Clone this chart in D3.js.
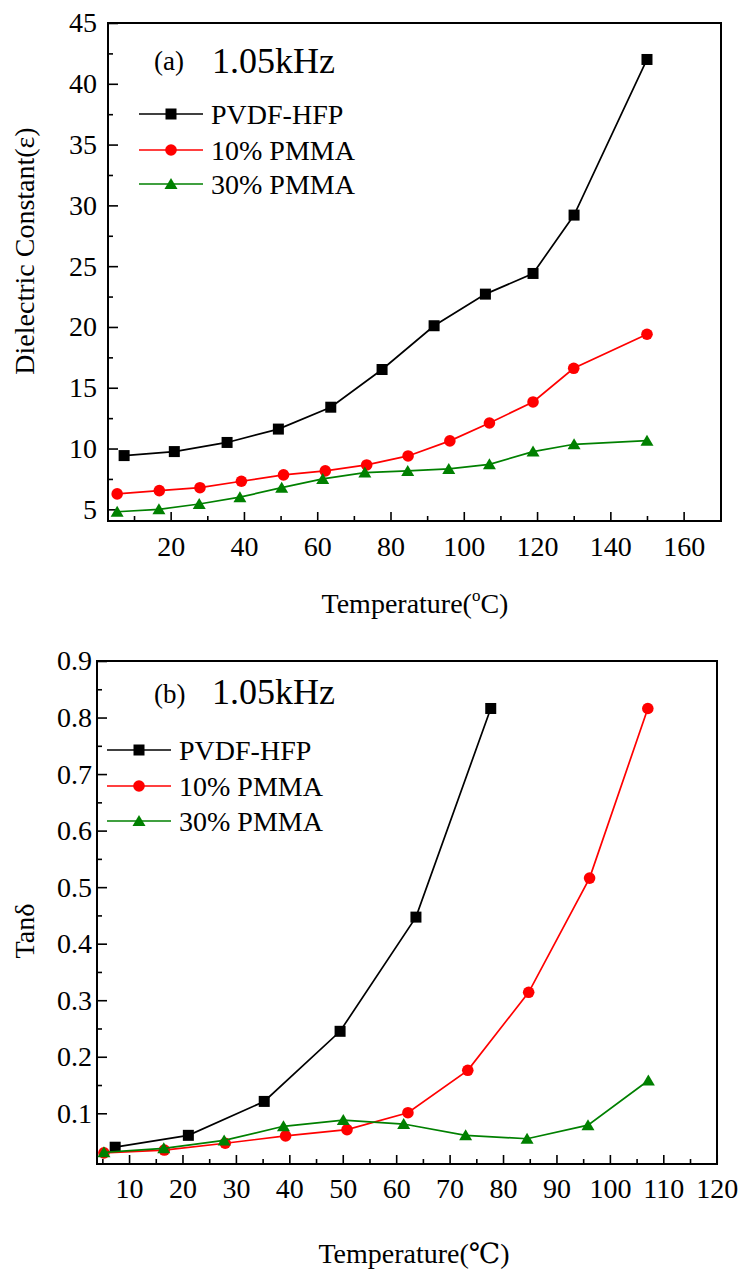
<!DOCTYPE html>
<html>
<head>
<meta charset="utf-8">
<title>Dielectric constant and loss vs temperature</title>
<script src="https://d3js.org/d3.v7.min.js"></script>
<style>
  body { margin: 0; background: #fff; }
  svg text { font-family: "Liberation Serif", "Times New Roman", "DejaVu Serif", serif !important; fill: #000; }
</style>
</head>
<body>
<div id="container"></div>
<script>
//------------------------- DATA ---------------------------//
const seriesNames = ["PVDF-HFP", "10% PMMA", "30% PMMA"];
const seriesColors = ["#000000", "#ff0000", "#008000"];
const seriesShapes = ["square", "circle", "triangle"];

// (a) dielectric constant
const aTempPVDF = [7.3, 21, 35.4, 49.4, 63.7, 77.7, 91.9, 105.9, 118.9, 130.1, 150];
const aEpsPVDF  = [9.42, 9.75, 10.5, 11.6, 13.4, 16.5, 20.1, 22.7, 24.4, 29.2, 42.0];
const aTemp10   = [5.4, 16.9, 28.0, 39.3, 50.8, 62.2, 73.5, 84.8, 96.2, 107.0, 118.9, 130.0, 150.0];
const aEps10    = [6.27, 6.54, 6.78, 7.31, 7.83, 8.16, 8.65, 9.39, 10.63, 12.1, 13.83, 16.6, 19.4];
const aTemp30   = [5.4, 16.8, 27.8, 38.9, 50.3, 61.5, 73.0, 84.7, 95.9, 107.0, 118.9, 130.1, 150.0];
const aEps30    = [4.8, 5.0, 5.44, 6.0, 6.78, 7.5, 8.02, 8.16, 8.32, 8.7, 9.75, 10.35, 10.65];

// (b) tan delta
const bTempPVDF = [7.4, 21.1, 35.3, 49.5, 63.7, 77.7];
const bTanPVDF  = [0.040, 0.061, 0.121, 0.245, 0.447, 0.816];
const bTemp10   = [5.3, 16.6, 28.0, 39.3, 50.8, 62.2, 73.4, 84.8, 96.2, 107.1];
const bTan10    = [0.030, 0.035, 0.047, 0.060, 0.071, 0.101, 0.176, 0.314, 0.516, 0.816];
const bTemp30   = [5.3, 16.5, 27.8, 38.9, 50.1, 61.4, 73.0, 84.5, 95.9, 107.2];
const bTan30    = [0.031, 0.038, 0.052, 0.077, 0.088, 0.081, 0.061, 0.055, 0.079, 0.158];

// ticks
const aXTicks = [20, 40, 60, 80, 100, 120, 140, 160];
const aXMinor = [10, 30, 50, 70, 90, 110, 130, 150];
const aYTicks = [5, 10, 15, 20, 25, 30, 35, 40, 45];
const aYMinor = [7.5, 12.5, 17.5, 22.5, 27.5, 32.5, 37.5, 42.5];
const bXTicks = [10, 20, 30, 40, 50, 60, 70, 80, 90, 100, 110, 120];
const bXMinor = [5, 15, 25, 35, 45, 55, 65, 75, 85, 95, 105, 115];
const bYTicks = [0.1, 0.2, 0.3, 0.4, 0.5, 0.6, 0.7, 0.8, 0.9];
const bYMinor = [0.15, 0.25, 0.35, 0.45, 0.55, 0.65, 0.75, 0.85];

//------------------------- SVG ----------------------------//
const width = 741;
const height = 1272;
const serif = "'Liberation Serif', 'Times New Roman', serif";
const svg = d3.select("#container").append("svg")
    .attr("width", width)
    .attr("height", height)
    .attr("font-family", serif);

const zip = (xs, ys) => xs.map((x, i) => ({x: x, y: ys[i]}));

// marker shapes
function marker(sel, shape, color) {
    if (shape === "square") {
        sel.append("rect").attr("x", -5.5).attr("y", -5.5)
            .attr("width", 11).attr("height", 11).attr("fill", color);
    } else if (shape === "circle") {
        sel.append("circle").attr("r", 5.8).attr("fill", color);
    } else {
        sel.append("path").attr("d", "M0,-6 L6.5,5 L-6.5,5 Z").attr("fill", color);
    }
}

function drawPanel(cfg) {
    const x = d3.scaleLinear().domain(cfg.xDomain).range([cfg.left, cfg.right]);
    const y = d3.scaleLinear().domain(cfg.yDomain).range([cfg.bottom, cfg.top]);
    const g = svg.append("g");

    // minor ticks
    g.append("g").attr("transform", "translate(0," + cfg.bottom + ")")
        .call(d3.axisBottom(x).tickValues(cfg.xMinor).tickSize(-5).tickSizeOuter(0).tickFormat(""))
        .call(a => a.select(".domain").remove());
    g.append("g").attr("transform", "translate(" + cfg.left + ",0)")
        .call(d3.axisLeft(y).tickValues(cfg.yMinor).tickSize(-5).tickSizeOuter(0).tickFormat(""))
        .call(a => a.select(".domain").remove());

    // major ticks + labels
    g.append("g").attr("transform", "translate(0," + cfg.bottom + ")")
        .call(d3.axisBottom(x).tickValues(cfg.xTicks).tickSize(-9).tickSizeOuter(0)
            .tickPadding(cfg.xPad).tickFormat(d3.format("d")))
        .attr("font-family", serif).attr("font-size", 28)
        .call(a => a.select(".domain").remove())
        .call(a => a.selectAll("text").attr("fill", "#000"));
    g.append("g").attr("transform", "translate(" + cfg.left + ",0)")
        .call(d3.axisLeft(y).tickValues(cfg.yTicks).tickSize(-10).tickSizeOuter(0)
            .tickPadding(cfg.yPad).tickFormat(cfg.yFormat))
        .attr("font-family", serif).attr("font-size", 28)
        .call(a => a.select(".domain").remove())
        .call(a => a.selectAll("text").attr("fill", "#000"));
    g.selectAll(".tick line").attr("stroke", "#000").attr("stroke-width", 1.6);

    // frame
    g.append("rect")
        .attr("x", cfg.left).attr("y", cfg.top)
        .attr("width", cfg.right - cfg.left).attr("height", cfg.bottom - cfg.top)
        .attr("fill", "none").attr("stroke", "#000").attr("stroke-width", 2);

    // lines + markers
    const line = d3.line().x(d => x(d.x)).y(d => y(d.y));
    cfg.series.forEach((s, i) => {
        g.append("path").datum(s)
            .attr("d", line)
            .attr("fill", "none")
            .attr("stroke", seriesColors[i])
            .attr("stroke-width", 1.7);
        g.selectAll(null).data(s).enter().append("g")
            .attr("transform", d => "translate(" + x(d.x) + "," + y(d.y) + ")")
            .each(function() { marker(d3.select(this), seriesShapes[i], seriesColors[i]); });
    });

    // panel label + frequency
    g.append("text").attr("class", "panel-label").attr("x", cfg.labelX).attr("y", cfg.labelY)
        .attr("font-size", 27).text(cfg.label);
    g.append("text").attr("x", 212).attr("y", cfg.freqY)
        .attr("font-size", 36).text("1.05kHz");

    // legend
    seriesNames.forEach((name, i) => {
        const ly = cfg.legendY[i];
        g.append("line")
            .attr("x1", cfg.legendX).attr("x2", cfg.legendX + 64)
            .attr("y1", ly).attr("y2", ly)
            .attr("stroke", seriesColors[i]).attr("stroke-width", 1.7);
        marker(g.append("g").attr("transform", "translate(" + (cfg.legendX + 32) + "," + ly + ")"),
            seriesShapes[i], seriesColors[i]);
        g.append("text").attr("x", cfg.legendX + 72).attr("y", ly + 10)
            .attr("font-size", 28).text(name);
    });

    // y title
    g.append("text")
        .attr("transform", "translate(34," + cfg.yTitleY + ") rotate(-90)")
        .attr("text-anchor", "middle").attr("font-size", 28)
        .text(cfg.yTitle);
    return g;
}

//------------------------- PANEL (a) -----------------------//
const ga = drawPanel({
    left: 108, right: 721, top: 23, bottom: 521,
    xDomain: [2.9, 170.2], yDomain: [4.04, 45],
    xTicks: aXTicks, xMinor: aXMinor, yTicks: aYTicks, yMinor: aYMinor,
    xPad: 15, yPad: 11, yFormat: d3.format("d"),
    series: [zip(aTempPVDF, aEpsPVDF), zip(aTemp10, aEps10), zip(aTemp30, aEps30)],
    label: "(a)", labelX: 154, labelY: 70, freqY: 73,
    legendX: 139, legendY: [114, 150, 184],
    yTitle: "Dielectric Constant(\u03b5)", yTitleY: 251
});
const ta = ga.append("text").attr("x", 415).attr("y", 613)
    .attr("text-anchor", "middle").attr("font-size", 28);
ta.append("tspan").text("Temperature(");
ta.append("tspan").attr("font-size", 17).attr("dy", -12).text("o");
ta.append("tspan").attr("dy", 12).text("C)");

//------------------------- PANEL (b) -----------------------//
const gb = drawPanel({
    left: 97, right: 717, top: 661, bottom: 1164,
    xDomain: [4, 120.05], yDomain: [0.0103, 0.9],
    xTicks: bXTicks, xMinor: bXMinor, yTicks: bYTicks, yMinor: bYMinor,
    xPad: 14, yPad: 5, yFormat: d3.format(".1f"),
    series: [zip(bTempPVDF, bTanPVDF), zip(bTemp10, bTan10), zip(bTemp30, bTan30)],
    label: "(b)", labelX: 154, labelY: 703, freqY: 704,
    legendX: 107, legendY: [750, 786, 821],
    yTitle: "Tan\u03b4", yTitleY: 931
});
gb.append("text").attr("x", 414).attr("y", 1263)
    .attr("text-anchor", "middle").attr("font-size", 28)
    .text("Temperature(\u2103)");
</script>
</body>
</html>
